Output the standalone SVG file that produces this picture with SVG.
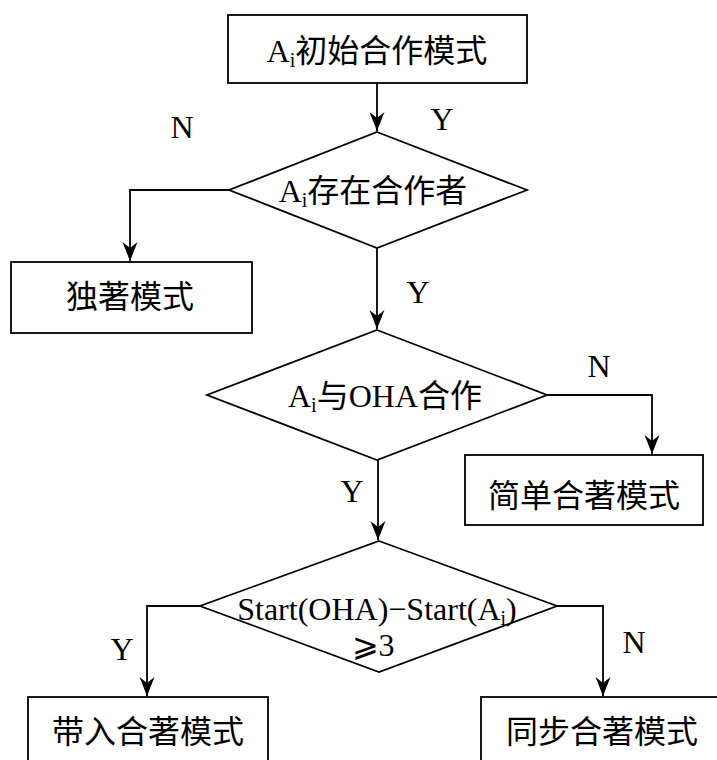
<svg xmlns="http://www.w3.org/2000/svg" width="717" height="760" viewBox="0 0 717 760">
<style>
.box{fill:#fff;stroke:#000;stroke-width:1.8}
.ln{fill:none;stroke:#000;stroke-width:1.8}
.t{font-family:"Liberation Serif","Noto Sans CJK SC",serif;font-size:32px;fill:#000;text-anchor:middle}
.s{font-size:20px}
</style>
<defs>
<marker id="ah" markerUnits="userSpaceOnUse" viewBox="-20 -10 22 20" refX="0" refY="0" markerWidth="22" markerHeight="20" orient="auto">
<path d="M0,0 L-19,-7.5 L-13,0 L-19,7.5 Z" fill="#000"/>
</marker>
</defs>
<rect width="717" height="760" fill="#fff"/>
<g id="connectors">
<path class="ln" d="M377,83 V131" marker-end="url(#ah)"/>
<path class="ln" d="M229,190 H130 V261" marker-end="url(#ah)"/>
<path class="ln" d="M377,248 V329" marker-end="url(#ah)"/>
<path class="ln" d="M547,395 H652 V454" marker-end="url(#ah)"/>
<path class="ln" d="M378,460 V540" marker-end="url(#ah)"/>
<path class="ln" d="M200,606 H147 V696" marker-end="url(#ah)"/>
<path class="ln" d="M557,606 H603 V696" marker-end="url(#ah)"/>
</g>
<g id="labels">
<text class="t" x="182" y="138">N</text>
<text class="t" x="442" y="130">Y</text>
<text class="t" x="418" y="303">Y</text>
<text class="t" x="599" y="377">N</text>
<text class="t" x="352" y="502">Y</text>
<text class="t" x="122" y="660">Y</text>
<text class="t" x="634" y="653">N</text>
</g>
<g id="n1">
<rect class="box" x="228" y="15" width="299" height="68"/>
<text class="t" x="377" y="62">A<tspan class="s" dy="5">i</tspan><tspan dy="-5">初始合作模式</tspan></text>
</g>
<g id="d1">
<polygon class="box" points="377,132 527,190 377,248 229,190"/>
<text class="t" x="373" y="202">A<tspan class="s" dy="5">i</tspan><tspan dy="-5">存在合作者</tspan></text>
</g>
<g id="n2">
<rect class="box" x="11" y="262" width="241" height="71"/>
<text class="t" x="130" y="308">独著模式</text>
</g>
<g id="d2">
<polygon class="box" points="377,330 547,395 377,460 207,395"/>
<text class="t" x="385" y="407">A<tspan class="s" dy="5">i</tspan><tspan dy="-5">与OHA合作</tspan></text>
</g>
<g id="n3">
<rect class="box" x="465" y="455" width="238" height="70"/>
<text class="t" x="584" y="507">简单合著模式</text>
</g>
<g id="d3">
<polygon class="box" points="379,541 557,606 379,672 200,606"/>
<text class="t" x="377" y="620">Start(OHA)−Start(A<tspan class="s" dy="5">i</tspan><tspan dy="-5">)</tspan></text>
<text class="t" x="373" y="656">⩾3</text>
</g>
<g id="n4">
<rect class="box" x="28" y="697" width="240" height="80"/>
<text class="t" x="148" y="743">带入合著模式</text>
</g>
<g id="n5">
<rect class="box" x="481" y="697" width="250" height="80"/>
<text class="t" x="602" y="743">同步合著模式</text>
</g>
</svg>
